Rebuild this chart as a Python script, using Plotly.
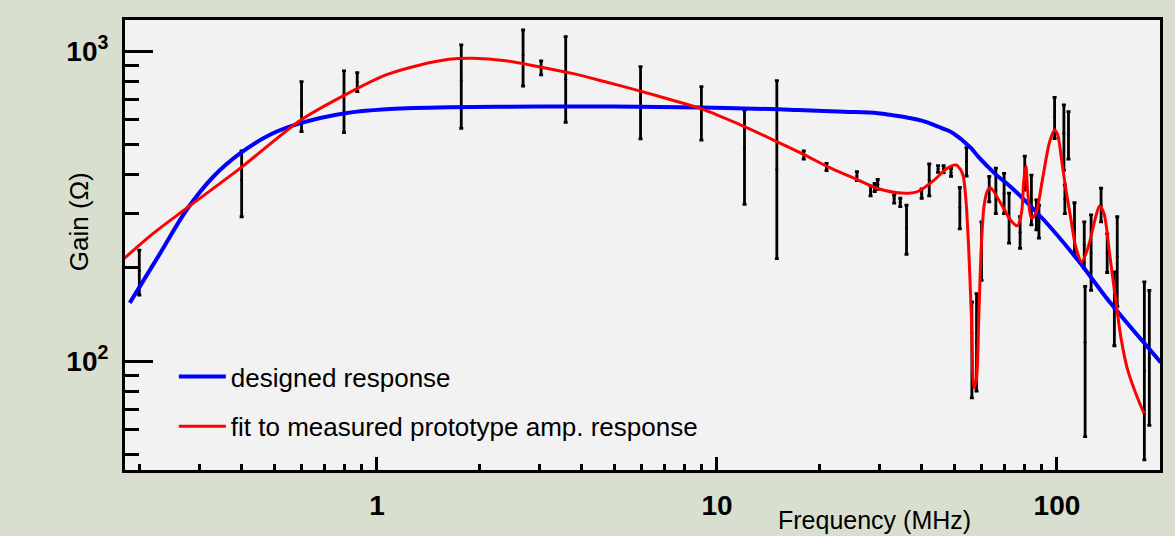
import plotly.graph_objects as go

# ---- data ----
# designed response (blue)
designed_freq = [0.1875, 0.23, 0.2754, 0.33, 0.3965, 0.483, 0.596, 0.806, 1.063, 1.63,
                 3.0, 5.0, 9.0, 15.1, 17.3, 23.7, 29.7, 33.0, 37.2, 40.0, 43.6, 46.0,
                 48.8, 51.0, 53.4, 56.0, 58.5, 62.0, 66.0, 73.0, 91.5, 115.0, 143.5, 202.0]
designed_gain = [154, 222, 307, 393, 468, 536, 585, 630, 649, 658,
                 662, 662, 657, 649, 645, 637, 630, 620, 607, 596, 577, 563,
                 548, 530, 509, 485, 458, 428, 400, 365, 285, 212, 154, 99]

# fit to measured prototype amp. response (red)
fit_freq = [0.1795, 0.2198, 0.2754, 0.3965, 0.596, 0.806, 1.063, 1.33, 1.63, 1.906, 2.39,
            2.99, 3.75, 4.69, 5.88, 7.36, 9.22, 11.55, 14.46, 18.1, 21.2,
            25.4, 29.7, 34.8, 38.9, 43.6, 47.6, 50.4, 52.0, 53.0, 54.0,
            55.0, 56.0, 57.0, 58.0, 58.9, 59.9, 61.0, 62.3, 63.7, 68.3,
            73.0, 76.4, 78.6, 79.9, 81.0, 82.1, 84.1, 86.6, 90.6, 94.9,
            98.3, 100.5, 103.2, 106.3, 110.0, 113.5, 118.3, 123.7, 129.3, 133.4,
            137.5, 142.8, 148.4, 154.6, 161.4, 172.0, 180.3]
fit_gain = [213, 258, 311, 419, 598, 722, 837, 900, 940, 947, 930,
            890, 847, 796, 745, 695, 645, 582, 520, 462, 423,
            388, 360, 348, 352, 384, 419, 429, 415, 395, 330,
            230, 140, 82, 88, 140, 234, 315, 352, 362, 323,
            285, 273, 299, 384, 426, 348, 289, 299, 384, 504,
            556, 536, 445, 356, 285, 234, 209, 234, 285, 316,
            299, 222, 161, 117, 93.6, 76.7, 67.8]

# measured points with error bars
meas_freq = [0.2, 0.4, 0.6, 0.8, 0.875, 1.77, 2.69, 3.04, 3.59, 5.96,
             9.0, 12.05, 15.0, 18.0, 21.0, 25.8, 28.3, 29.1, 29.7, 33.2,
             34.6, 36.1, 40.0, 42.1, 44.7, 46.4, 48.8, 51.8, 54.2, 56.2,
             58.0, 60.0, 63.2, 66.1, 69.9, 72.3, 77.9, 80.4, 84.1, 87.0,
             88.5, 98.4, 104.8, 105.5, 108.1, 112.6, 120.3, 121.0, 126.0, 134.8,
             140.5, 147.5, 150.4, 180.7, 186.9]
meas_gain = [195, 384, 674, 722, 794, 802, 971, 882, 809, 707,
             655, 485, 415, 462, 423, 395, 353, 363, 372, 334,
             325, 269, 347, 384, 416, 415, 405, 313, 440, 123,
             115, 222, 361, 354, 347, 289, 260, 404, 331, 296,
             281, 613, 543, 333, 534, 267, 237, 115, 223, 318,
             223, 147, 217, 93, 102]
meas_hi = [228, 476, 796, 863, 851, 1046, 1169, 929, 1112, 890,
           767, 645, 802, 476, 434, 408, 367, 374, 385, 343,
           335, 318, 359, 432, 427, 427, 418, 363, 488, 155,
           165, 281, 394, 419, 403, 348, 292, 458, 398, 331,
           318, 709, 670, 370, 637, 324, 281, 174, 296, 361,
           257, 194, 292, 180, 169]
meas_lo = [163, 292, 550, 545, 740, 563, 771, 837, 589, 521,
           516, 320, 214, 448, 411, 382, 341, 352, 358, 323,
           315, 221, 335, 341, 406, 405, 394, 267, 395, 76,
           80, 182, 326, 299, 299, 240, 231, 356, 275, 265,
           249, 522, 413, 299, 448, 220, 199, 57, 169, 281,
           193, 112, 150, 48, 62]

x_major = [1, 10, 100]
x_major_text = ["1", "10", "100"]
x_minor = [0.2, 0.3, 0.4, 0.5, 0.6, 0.7, 0.8, 0.9, 2, 3, 4, 5, 6, 7, 8, 9,
           20, 30, 40, 50, 60, 70, 80, 90, 200]
y_major = [100, 1000]
y_major_text = ["10<sup>2</sup>", "10<sup>3</sup>"]
y_minor = [50, 60, 70, 80, 90, 200, 300, 400, 500, 600, 700, 800, 900]

FONT = "Liberation Sans, Arial, Helvetica, sans-serif"

fig = go.Figure()

fig.add_trace(go.Scatter(
    x=meas_freq, y=meas_gain, mode="markers", showlegend=False,
    marker=dict(color="black", size=3),
    error_y=dict(type="data", symmetric=False,
                 array=[h - g for h, g in zip(meas_hi, meas_gain)],
                 arrayminus=[g - l for g, l in zip(meas_gain, meas_lo)],
                 color="black", thickness=2.8, width=2),
))

fig.add_trace(go.Scatter(
    x=designed_freq, y=designed_gain, mode="lines", name="designed response",
    line=dict(color="#0000ff", width=4, shape="spline", smoothing=1.0),
    legendgroup="a",
))

fig.add_trace(go.Scatter(
    x=fit_freq, y=fit_gain, mode="lines", name="fit to measured prototype amp. response",
    line=dict(color="#ff0000", width=3, shape="spline", smoothing=0.8),
    legendgroup="b",
))

L, R, T, B = 125, 1163, 20, 470
W, H = 1175, 536

fig.update_layout(
    width=W, height=H,
    margin=dict(l=L, r=W - R, t=T, b=H - B, pad=0),
    paper_bgcolor="#d8dfcf",
    plot_bgcolor="#f2f2f2",
    font=dict(family=FONT, color="black"),
    showlegend=True,
    legend=dict(x=(174 - L) / (R - L), y=(470 - 353) / (B - T), xanchor="left", yanchor="top",
                bgcolor="rgba(0,0,0,0)", borderwidth=0,
                font=dict(size=26, family=FONT, color="black"),
                tracegroupgap=13, itemwidth=47),
    xaxis=dict(
        type="log", range=[-0.741, 2.303],
        showline=True, linecolor="black", linewidth=3, mirror=True,
        showgrid=False, zeroline=False,
        ticks="inside", ticklen=13, tickwidth=3, tickcolor="black",
        tickmode="array", tickvals=x_major,
        ticktext=["<b>%s</b>" % t for t in x_major_text],
        tickfont=dict(size=28, family=FONT, color="black"),
        ticklabelstandoff=8,
        minor=dict(ticks="inside", ticklen=6, tickwidth=3, tickcolor="black",
                   tickmode="array", tickvals=x_minor, showgrid=False),
    ),
    yaxis=dict(
        type="log", range=[1.6484, 3.1],
        showline=True, linecolor="black", linewidth=3, mirror=True,
        showgrid=False, zeroline=False,
        ticks="inside", ticklen=28, tickwidth=3, tickcolor="black",
        tickmode="array", tickvals=y_major,
        ticktext=["<b>%s</b>" % t for t in y_major_text],
        tickfont=dict(size=28, family=FONT, color="black"),
        ticklabelstandoff=8,
        minor=dict(ticks="inside", ticklen=14, tickwidth=3, tickcolor="black",
                   tickmode="array", tickvals=y_minor, showgrid=False),
    ),
    annotations=[
        dict(text="Frequency (MHz)", xref="paper", yref="paper",
             x=(877 - L) / (R - L), y=(B - 520) / (B - T),
             xanchor="center", yanchor="middle", showarrow=False,
             font=dict(size=25, family=FONT, color="black")),
        dict(text="Gain (Ω)", xref="paper", yref="paper",
             x=(79 - L) / (R - L), y=(B - 222) / (B - T),
             xanchor="center", yanchor="middle", showarrow=False, textangle=-90,
             font=dict(size=26, family=FONT, color="black")),
    ],
)

fig.write_html("out.html", config={"displayModeBar": False},
               post_script="document.body.style.margin='0';document.body.style.padding='0';")
